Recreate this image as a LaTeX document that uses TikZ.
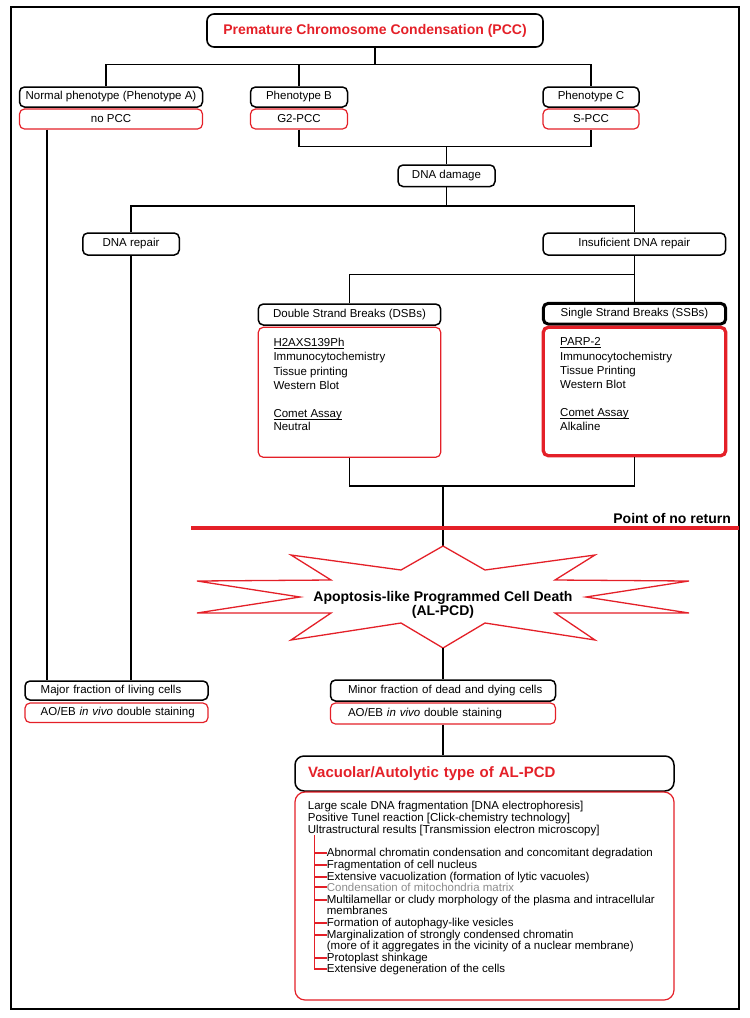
\documentclass[tikz,border=0pt]{standalone}
\usepackage{fontspec}
\setmainfont{Liberation Sans}
\definecolor{pred}{RGB}{228,32,40}
\definecolor{pgray}{RGB}{140,140,140}
\newcommand{\ulx}[1]{\underline{\smash{#1}}}
\begin{document}
\begin{tikzpicture}[x=1pt,y=-1pt,
  conn/.style={line width=1.4pt, black},
  boxbase/.style={inner sep=0pt, rounded corners=5pt, align=center, font=\fontsize{11.5}{13}\selectfont},
  bbox/.style={boxbase, draw=black, line width=1.5pt},
  rbox/.style={boxbase, draw=pred, line width=1.2pt},
  lst/.style={anchor=base west, inner sep=0pt, font=\fontsize{11.5}{12}\selectfont},
  tick/.style={draw=pred, line width=1.2pt},
  bigb/.style={font=\bfseries\fontsize{14}{13.5}\selectfont}
]
\useasboundingbox (0,0) rectangle (750,1018);
% outer frame
\draw[line width=1.8pt] (10.7,6.7) rectangle (739.3,1009.3);

% level coordinates
\coordinate (y1) at (0,64.3);
\coordinate (y2) at (0,146.5);
\coordinate (y3) at (0,206);
\coordinate (y4) at (0,274.3);
\coordinate (y5) at (0,486);

% title
\node[bbox, minimum width=336pt, minimum height=33pt, line width=1.6pt, rounded corners=7pt, text=pred, bigb] (T) at (375,30.5) {Premature Chromosome Condensation (PCC)};

% phenotypes
\node[bbox, minimum width=183pt, minimum height=20pt] (PA) at (111,97) {Normal phenotype (Phenotype A)};
\node[rbox, minimum width=183pt, minimum height=20pt] (PAr) at (111,119) {no PCC};
\node[bbox, minimum width=97pt, minimum height=20pt] (PB) at (299,97) {Phenotype B};
\node[rbox, minimum width=97pt, minimum height=20pt] (PBr) at (299,119) {G2-PCC};
\node[bbox, minimum width=96pt, minimum height=20pt] (PC) at (591,97) {Phenotype C};
\node[rbox, minimum width=96pt, minimum height=20pt] (PCr) at (591,119) {S-PCC};

\node[bbox, minimum width=97pt, minimum height=21.5pt] (DD) at (446.5,175.75) {DNA damage};
\node[bbox, minimum width=96.5pt, minimum height=22pt] (DR) at (131,244) {DNA repair};
\node[bbox, minimum width=182.5pt, minimum height=22pt] (IR) at (634.3,244) {Insuficient DNA repair};

\node[bbox, minimum width=182.4pt, minimum height=21pt] (DSB) at (349.5,314.5) {Double Strand Breaks (DSBs)};
\node[rbox, minimum width=182.4pt, minimum height=130pt] (DSBr) at (349.5,392.3) {};
\node[bbox, line width=3pt, minimum width=182.4pt, minimum height=20.7pt] (SSB) at (634.5,313.7) {Single Strand Breaks (SSBs)};
\node[rbox, line width=3.3pt, minimum width=182.4pt, minimum height=128.4pt] (SSBr) at (634.5,391.5) {};

% DSB contents
\node[lst] (D1) at (273.3,346.7) {\ulx{H2AXS139Ph}};
\node[lst] (D2) at (273.3,360.7) {Immunocytochemistry};
\node[lst] (D3) at (273.3,375) {Tissue printing};
\node[lst] (D4) at (273.3,389) {Western Blot};
\node[lst] (D5) at (273.3,417.3) {\ulx{Comet Assay}};
\node[lst] (D6) at (273.3,430.7) {Neutral};
% SSB contents
\node[lst] (S1) at (560,345.7) {\ulx{PARP-2}};
\node[lst] (S2) at (560,360) {Immunocytochemistry};
\node[lst] (S3) at (560,374) {Tissue Printing};
\node[lst] (S4) at (560,388) {Western Blot};
\node[lst] (S5) at (560,416.7) {\ulx{Comet Assay}};
\node[lst] (S6) at (560,430.7) {Alkaline};

% connectors top
\draw[conn] (T.south) -- (T.south |- y1);
\draw[conn] ([xshift=-5pt]PA.north) |- (PC.north |- y1) -- (PC.north);
\draw[conn] (PB.north) -- (PB.north |- y1);
\draw[conn] (PBr.south) |- (PCr.south |- y2) -- (PCr.south);
\draw[conn] (DD.north) -- (DD.north |- y2);
\draw[conn] (DR.north) |- (IR.north |- y3) -- (IR.north);
\draw[conn] (DD.south) -- (DD.south |- y3);
\draw[conn] (DSB.north) |- (SSB.north |- y4) -- (SSB.north);
\draw[conn] (IR.south) -- (IR.south |- y4);
\draw[conn] (DSBr.south) |- (SSBr.south |- y5) -- (SSBr.south);

% star
\coordinate (stop) at (443,546);
\coordinate (sbot) at (443,648);
\draw[conn] (stop |- y5) -- (stop);
\coordinate (rl1) at (191,527.7);
\coordinate (rl2) at (739,527.7);
\draw[pred, line width=4pt] (rl1) -- (rl2);
\node[anchor=base east, inner sep=0pt, bigb] (PNR) at (731,523) {Point of no return};

\draw[pred, line width=1.3pt, fill=white, line join=miter]
  (stop) -- (401,570) -- (291,555) -- (331,580) -- (197,581) -- (300,597) -- (197,613)
  -- (331,613) -- (291,640) -- (401,623) -- (sbot) -- (485,623) -- (595,640)
  -- (555,613) -- (689,613) -- (586,597) -- (689,581) -- (555,580) -- (595,555)
  -- (485,570) -- cycle;
\node[bigb, align=center, inner sep=0pt] (AL) at (443,605) {Apoptosis-like Programmed Cell Death\\(AL-PCD)};

% bottom boxes
\node[bbox, minimum width=183pt, minimum height=19pt, text width=183pt, align=left] (Ma) at (116.5,690.5) {\hspace*{15.7pt}Major fraction of living cells};
\node[rbox, minimum width=183pt, minimum height=19.5pt, text width=183pt, align=left] (Mar) at (116.5,712.8) {\hspace*{15.7pt}AO/EB \textit{in vivo} double staining};
\node[bbox, minimum width=225pt, minimum height=21pt, text width=225pt, align=left] (Mi) at (443,690.5) {\hspace*{17.5pt}Minor fraction of dead and dying cells};
\node[rbox, minimum width=225pt, minimum height=21pt, text width=225pt, align=left] (Mir) at (443,713.5) {\hspace*{17.5pt}AO/EB \textit{in vivo} double staining};

\draw[conn] (sbot) -- (Mi.north);
\draw[conn] ([xshift=-64pt]PAr.south) -- ([xshift=-64pt]PAr.south |- Ma.north);
\draw[conn] (DR.south) -- (DR.south |- Ma.north);

\node[bbox, minimum width=379pt, minimum height=35pt, text width=379pt, align=left, rounded corners=9pt, text=pred, font=\bfseries\fontsize{15}{17}\selectfont] (Vac) at (484.5,773.5) {\hspace*{13pt}Vacuolar/Autolytic type of AL-PCD};
\node[rbox, minimum width=379pt, minimum height=208pt, rounded corners=10pt] (VacR) at (484.5,896) {};
\draw[conn] (Mir.south) -- (Mir.south |- Vac.north);

% list
\node[lst] (L1) at (307.7,809) {Large scale DNA fragmentation [DNA electrophoresis]};
\node[lst] (L2) at (307.7,821) {Positive Tunel reaction [Click-chemistry technology]};
\node[lst] (L3) at (307.7,833) {Ultrastructural results [Transmission electron microscopy]};
\node[lst] (I1) at (326.7,856) {Abnormal chromatin condensation and concomitant degradation};
\node[lst] (I2) at (326.7,868) {Fragmentation of cell nucleus};
\node[lst] (I3) at (326.7,880) {Extensive vacuolization (formation of lytic vacuoles)};
\node[lst, text=pgray] (I4) at (326.7,891) {Condensation of mitochondria matrix};
\node[lst] (I5) at (326.7,903) {Multilamellar or cludy morphology of the plasma and intracellular};
\node[lst] (I6) at (326.7,914) {membranes};
\node[lst] (I7) at (326.7,926) {Formation of autophagy-like vesicles};
\node[lst] (I8) at (326.7,938) {Marginalization of strongly condensed chromatin};
\node[lst] (I9) at (326.7,949) {(more of it aggregates in the vicinity of a nuclear membrane)};
\node[lst] (I10) at (326.7,961) {Protoplast shinkage};
\node[lst] (I11) at (326.7,972) {Extensive degeneration of the cells};

\coordinate (brtop) at (314.3,835);
\draw[tick] (brtop) -- (brtop |- I11.west) -- (I11.west);
\foreach \n in {I1,I2,I3,I4,I5,I7,I8,I10}
  \draw[tick] (brtop |- \n.west) -- (\n.west);
\end{tikzpicture}
\end{document}
